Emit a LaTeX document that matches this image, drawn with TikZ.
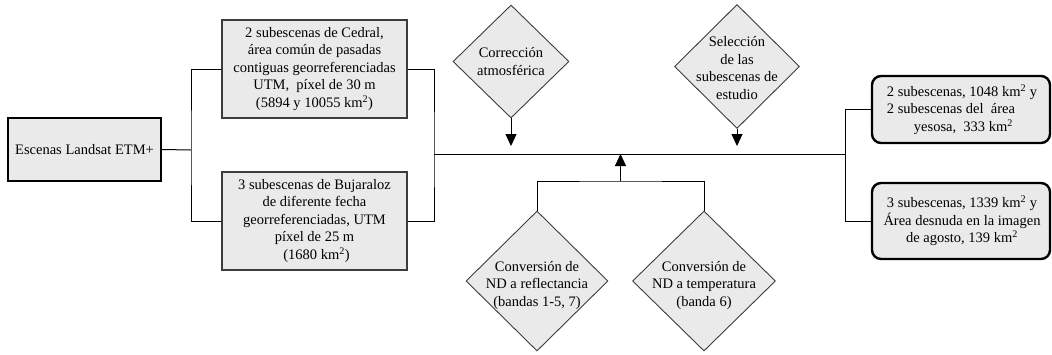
\documentclass[tikz,border=0pt]{standalone}
\usepackage{fontspec}
\setmainfont{Liberation Serif}
\usepackage{tikz}
\usetikzlibrary{shapes.geometric,arrows.meta}
\definecolor{boxgray}{RGB}{234,234,234}
\definecolor{edgegray}{RGB}{60,60,60}
\tikzset{
  txt/.style={font=\fontsize{14.5}{17.5}\selectfont, align=center, inner sep=0pt},
  sqbox/.style={draw=edgegray, line width=1.3pt, fill=boxgray, inner sep=0pt},
  thickbox/.style={draw=black, line width=2.4pt, fill=boxgray, inner sep=0pt},
  roundbox/.style={draw=black, line width=2.4pt, fill=boxgray, rounded corners=9pt, inner sep=0pt},
  dia/.style={diamond, draw=edgegray, line width=0.9pt, fill=boxgray, inner sep=0pt},
  link/.style={draw=black, line width=1pt},
  arr/.style={link, -{Triangle[width=11pt,length=12pt]}}
}
\begin{document}
\begin{tikzpicture}[x=1pt,y=-1pt]
	\useasboundingbox (0,0) rectangle (1052,354);
	
	% boxes on the left
	\node[thickbox, minimum width=153pt, minimum height=63pt] (land) at (84.5,149.5) {};
	\node[sqbox, minimum width=185pt, minimum height=98pt] (cedral) at (314.5,69) {};
	\node[sqbox, minimum width=185pt, minimum height=98pt] (bujar) at (314.5,221) {};
	
	% diamonds
	\foreach \n/\x/\y/\w/\h in
	{atm/511/61.5/116/113, sel/737/66.5/125/124, refl/537/281/142/140, temp/704/281/143/140}{
		\node[dia, minimum width=\w pt, minimum height=\h pt] (\n) at (\x,\y) {};
	}
	
	% boxes on the right
	\node[roundbox, minimum width=178pt, minimum height=67pt] (yeso) at (961,109.5) {};
	\node[roundbox, minimum width=178pt, minimum height=76pt] (agosto) at (961,221) {};
	
	% texts
	\node[txt] at (land) {Escenas Landsat ETM+};
	\node[txt] at (cedral) {2 subescenas de Cedral,\\ área común de pasadas\\ contiguas georreferenciadas\\ UTM,\ \ píxel de 30 m\\ (5894 y 10055 km\textsuperscript{2})};
	\node[txt] at (bujar) {3 subescenas de Bujaraloz\\ de diferente fecha\\ georreferenciadas, UTM\\ píxel de 25 m\\ \hspace*{4pt}(1680 km\textsuperscript{2})};
	\node[txt] at (atm) {Corrección\\ atmosférica};
	\node[txt] at ([yshift=-1.5pt]sel.center) {Selección\\ de las\\ subescenas de\\ estudio};
	\node[txt] at ([yshift=-4pt]refl.center) {Conversión de\\ ND a reflectancia\\ (bandas 1-5, 7)};
	\node[txt] at ([yshift=-4pt]temp.center) {Conversión de\\ ND a temperatura\\ (banda 6)};
	\node[txt, align=left] at ([xshift=1pt]yeso.center) {2 subescenas, 1048 km\textsuperscript{2} y\\ 2 subescenas del\ \ área\\ \hspace*{27pt}yesosa,\ \ 333 km\textsuperscript{2}};
	\node[txt] at ([xshift=1pt]agosto.center) {3 subescenas, 1339 km\textsuperscript{2} y\\ Área desnuda en la imagen\\ de agosto, 139 km\textsuperscript{2}};
	
	% junctions
	\coordinate (jl) at (191,150);
	\coordinate (jr) at (434,154);
	\coordinate (jm) at (845,154);
	\coordinate (jb) at (620.5,181);
	
	% connectors
	\draw[link] (land.east) -- (jl);
	\draw[link] (cedral.west) -| (jl) |- (bujar.west);
	\draw[link] (cedral.east) -| (jr) |- (bujar.east);
	\draw[link] (jr) -- (jm);
	\draw[link] (yeso.west) -| (jm) |- (agosto.west);
	\foreach \n in {atm,sel}{
		\draw[arr, shorten >=8pt] (\n.south) -- (\n.south |- jr);
	}
	\draw[link] (refl.north) |- (jb) -| (temp.north);
	\draw[arr] (jb) -- (jb |- jr);
\end{tikzpicture}
\end{document}
